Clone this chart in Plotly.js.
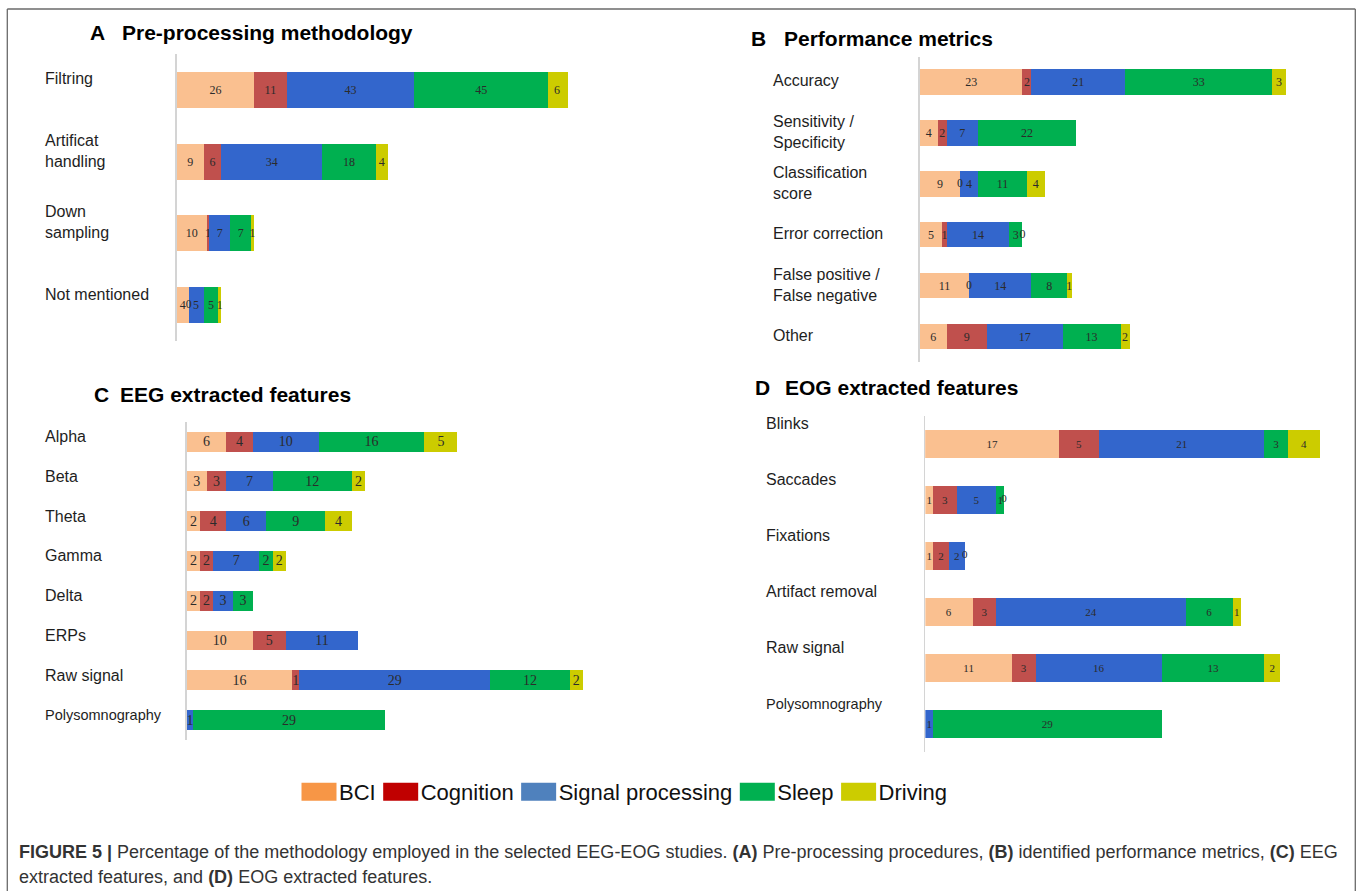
<!DOCTYPE html>
<html>
<head>
<meta charset="utf-8">
<script src="https://cdn.plot.ly/plotly-3.0.1.min.js"></script>
<style>
html,body{margin:0;padding:0;background:#ffffff;}
#chart{width:1358px;height:891px;}
</style>
</head>
<body>
<div id="chart"></div>
<script>
// ---------- DATA ----------
const seriesNames = ['BCI', 'Cognition', 'Signal processing', 'Sleep', 'Driving'];

// Panel A: Pre-processing methodology
const catsA = ['Filtring', 'Artificat<br>handling', 'Down<br>sampling', 'Not mentioned'];
const bciA   = [26, 9, 10, 4];
const cogA   = [11, 6, 1, 0];
const sigA   = [43, 34, 7, 5];
const sleepA = [45, 18, 7, 5];
const drivA  = [6, 4, 1, 1];

// Panel B: Performance metrics
const catsB = ['Accuracy', 'Sensitivity /<br>Specificity', 'Classification<br>score', 'Error correction', 'False positive /<br>False negative', 'Other'];
const bciB   = [23, 4, 9, 5, 11, 6];
const cogB   = [2, 2, 0, 1, 0, 9];
const sigB   = [21, 7, 4, 14, 14, 17];
const sleepB = [33, 22, 11, 3, 8, 13];
const drivB  = [3, null, 4, 0, 1, 2];

// Panel C: EEG extracted features
const catsC = ['Alpha', 'Beta', 'Theta', 'Gamma', 'Delta', 'ERPs', 'Raw signal', 'Polysomnography'];
const bciC   = [6, 3, 2, 2, 2, 10, 16, null];
const cogC   = [4, 3, 4, 2, 2, 5, 1, null];
const sigC   = [10, 7, 6, 7, 3, 11, 29, 1];
const sleepC = [16, 12, 9, 2, 3, null, 12, 29];
const drivC  = [5, 2, 4, 2, null, null, 2, null];

// Panel D: EOG extracted features
const catsD = ['Blinks', 'Saccades', 'Fixations', 'Artifact removal', 'Raw signal', 'Polysomnography'];
const bciD   = [17, 1, 1, 6, 11, null];
const cogD   = [5, 3, 2, 3, 3, null];
const sigD   = [21, 5, 2, 24, 16, 1];
const sleepD = [3, 1, 0, 6, 13, 29];
const drivD  = [4, 0, null, 1, 2, null];

// ---------- STYLE ----------
const W = 1358, H = 891;
const px = v => v / W;
const py = v => 1 - v / H;
const barColors = ['#fac090', '#c0504d', '#3366cc', '#00b050', '#cccc00'];
const legendColors = ['#f79646', '#c00000', '#4f81bd', '#00b050', '#cccc00'];
const numFont = 'Liberation Serif, DejaVu Serif, serif';
const sansFont = 'Liberation Sans, Arial, sans-serif';

function panelTraces(cats, series, xa, ya, fs) {
  const out = [];
  series.forEach((vals, k) => {
    out.push({
      type: 'bar', orientation: 'h', x: vals, y: cats, xaxis: xa, yaxis: ya,
      name: seriesNames[k], showlegend: false,
      marker: {color: barColors[k], line: {width: 0}},
      text: vals.map(v => (v == null ? '' : String(v))),
      textposition: 'inside', insidetextanchor: 'middle', textangle: 0,
      constraintext: 'none',
      textfont: {family: numFont, size: fs, color: '#2b2b2b'},
      hoverinfo: 'skip'
    });
  });
  // zero-valued segments: label drawn at the stack position of that segment
  const zx = [], zy = [];
  cats.forEach((c, i) => {
    let cum = 0;
    series.forEach(vals => {
      const v = vals[i];
      if (v === 0) { zx.push(cum); zy.push(c); }
      if (v != null) cum += v;
    });
  });
  out.push({
    type: 'scatter', mode: 'text', x: zx, y: zy, xaxis: xa, yaxis: ya,
    text: zx.map(() => '0'), textposition: 'middle center', cliponaxis: false,
    textfont: {family: numFont, size: fs, color: '#2b2b2b'},
    showlegend: false, hoverinfo: 'skip'
  });
  return out;
}

let traces = [];
traces = traces.concat(panelTraces(catsA, [bciA, cogA, sigA, sleepA, drivA], 'x', 'y', 12));
traces = traces.concat(panelTraces(catsB, [bciB, cogB, sigB, sleepB, drivB], 'x2', 'y2', 12));
traces = traces.concat(panelTraces(catsC, [bciC, cogC, sigC, sleepC, drivC], 'x3', 'y3', 14));
traces = traces.concat(panelTraces(catsD, [bciD, cogD, sigD, sleepD, drivD], 'x4', 'y4', 11));

// legend entries (zero-length, legend colours)
seriesNames.forEach((n, k) => {
  traces.push({
    type: 'bar', orientation: 'h', x: [0], y: [catsA[0]], xaxis: 'x', yaxis: 'y',
    name: n, showlegend: true,
    marker: {color: legendColors[k], line: {color: legendColors[k], width: 5}},
    hoverinfo: 'skip'
  });
});

function xAxis(x0, scale, range, anchor) {
  return {domain: [px(x0), px(x0 + scale * range)], range: [0, range], anchor: anchor,
          visible: false, fixedrange: true};
}
function yAxis(cats, top, bottom, anchor) {
  return {domain: [py(bottom), py(top)], type: 'category', categoryorder: 'array',
          categoryarray: cats, range: [cats.length - 0.5, -0.5], anchor: anchor,
          showline: true, linecolor: '#d4d4d4', linewidth: 1.5, showgrid: false,
          zeroline: false, ticks: '', showticklabels: false, fixedrange: true};
}

const annotations = [];
function title(letter, text, xl, xt, yc) {
  annotations.push({xref: 'paper', yref: 'paper', x: px(xl), y: py(yc), xanchor: 'left', yanchor: 'middle',
    text: '<b>' + letter + '</b>', showarrow: false, font: {family: sansFont, size: 21, color: '#000'}});
  annotations.push({xref: 'paper', yref: 'paper', x: px(xt), y: py(yc), xanchor: 'left', yanchor: 'middle',
    text: '<b>' + text + '</b>', showarrow: false, font: {family: sansFont, size: 21, color: '#000'}});
}
title('A', 'Pre-processing methodology', 88, 120, 33);
title('B', 'Performance metrics', 749, 782, 38);
title('C', 'EEG extracted features', 92, 118, 394);
title('D', 'EOG extracted features', 753, 783, 387);

function labels(cats, ya, xl, shift) {
  cats.forEach(c => {
    const size = c.length > 14 && c.indexOf('<br>') < 0 && c.indexOf(' ') < 0 ? 14.5 : 16;
    annotations.push({xref: 'paper', yref: ya, x: px(xl), y: c, xanchor: 'left', yanchor: 'middle',
      align: 'left', yshift: shift, text: c, showarrow: false,
      font: {family: sansFont, size: size, color: '#1e1e1e'}});
  });
}
labels(catsA, 'y', 43, 11);
labels(catsB, 'y2', 771, 1);
labels(catsC, 'y3', 43, 5);
labels(catsD, 'y4', 764, 20);

annotations.push({xref: 'paper', yref: 'paper', x: px(17), y: py(852), xanchor: 'left', yanchor: 'middle',
  showarrow: false, font: {family: sansFont, size: 18, color: '#333'},
  text: '<b>FIGURE 5 |</b> Percentage of the methodology employed in the selected EEG-EOG studies. <b>(A)</b> Pre-processing procedures, <b>(B)</b> identified performance metrics, <b>(C)</b> EEG'});
annotations.push({xref: 'paper', yref: 'paper', x: px(17), y: py(877), xanchor: 'left', yanchor: 'middle',
  showarrow: false, font: {family: sansFont, size: 18, color: '#333'},
  text: 'extracted features, and <b>(D)</b> EOG extracted features.'});

const frame = {color: '#6a6a6a', width: 1.3};
const shapes = [
  {type: 'line', xref: 'paper', yref: 'paper', x0: px(7.3), x1: px(7.3), y0: py(9), y1: 0, line: frame},
  {type: 'line', xref: 'paper', yref: 'paper', x0: px(7.3), x1: px(1355.3), y0: py(9), y1: py(9), line: frame},
  {type: 'line', xref: 'paper', yref: 'paper', x0: px(1355.3), x1: px(1355.3), y0: py(9), y1: 0, line: frame}
];

const layout = {
  width: W, height: H, margin: {l: 0, r: 0, t: 0, b: 0},
  paper_bgcolor: '#ffffff', plot_bgcolor: 'rgba(0,0,0,0)',
  barmode: 'stack', bargap: 0.5,
  showlegend: true,
  legend: {orientation: 'h', x: px(299), xanchor: 'left', y: py(792), yanchor: 'middle',
           font: {family: sansFont, size: 22, color: '#111'}, bgcolor: 'rgba(0,0,0,0)',
           traceorder: 'normal', itemclick: false, itemdoubleclick: false},
  xaxis:  xAxis(176.8, 2.97, 150, 'y'),
  yaxis:  yAxis(catsA, 54, 341, 'x'),
  xaxis2: xAxis(919.9, 4.46, 90, 'y2'),
  yaxis2: yAxis(catsB, 56.5, 362, 'x2'),
  xaxis3: xAxis(186.8, 6.6, 65, 'y3'),
  yaxis3: yAxis(catsC, 421.8, 739.9, 'x3'),
  xaxis4: xAxis(925.2, 7.89, 52, 'y4'),
  yaxis4: yAxis(catsD, 415.5, 752, 'x4'),
  annotations: annotations,
  shapes: shapes,
  hovermode: false
};

function widenSwatches() {
  // widen the legend swatches to the wide rectangles of the original figure
  document.querySelectorAll('#chart g.legendpoints path').forEach(p => {
    p.setAttribute('d', 'M17.5,9H-17.5V-9H17.5Z');
    p.style.strokeWidth = '0px';
  });
}
const gd = document.getElementById('chart');
Plotly.newPlot(gd, traces, layout, {displayModeBar: false, staticPlot: true}).then(() => {
  widenSwatches();
  setTimeout(widenSwatches, 50);
  setTimeout(widenSwatches, 300);
});
gd.on && gd.on('plotly_afterplot', widenSwatches);
</script>
</body>
</html>
